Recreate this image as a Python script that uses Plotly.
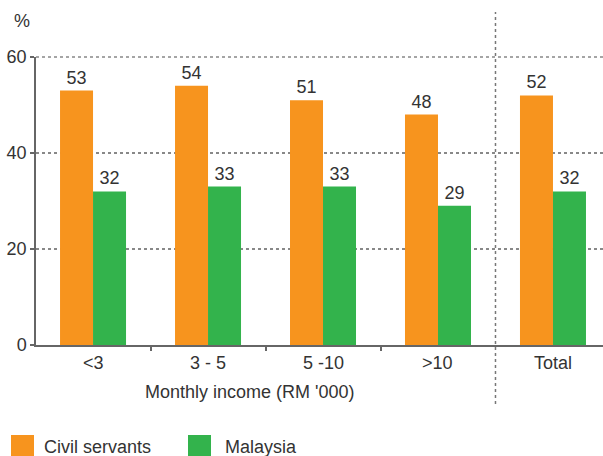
import plotly.graph_objects as go

# Share of households (%) by monthly income group
categories = ["<3", "3 - 5", "5 -10", ">10", "Total"]
civil_servants = [53, 54, 51, 48, 52]
malaysia = [32, 33, 33, 29, 32]
series_names = ["Civil servants", "Malaysia"]
y_ticks = [0, 20, 40, 60]

ORANGE = "#F7941E"
GREEN = "#33B34C"
TEXT = "#333333"
AXIS = "#666666"
GRID = "#888888"
FONT = "Liberation Sans, Arial, sans-serif"
FS = 18

W, H = 603, 456
L, R, T, B = 36, 0, 57, 111
plot_w, plot_h = W - L - R, H - T - B

x_idx = list(range(len(categories)))
x_min, x_max = -0.496, 4.435


def px_x(px):
    return (px - L) / plot_w


def px_y(py):
    return (H - B - py) / plot_h


fig = go.Figure()
for name, vals, col in [(series_names[0], civil_servants, ORANGE),
                        (series_names[1], malaysia, GREEN)]:
    fig.add_trace(go.Bar(
        x=x_idx, y=vals, name=name, marker=dict(color=col, line=dict(width=0)),
        text=vals, texttemplate="%{y}", textposition="outside",
        textfont=dict(family=FONT, size=FS, color=TEXT), cliponaxis=False,
        showlegend=False,
    ))

# Category labels under the axis
annotations = []
for i, c in enumerate(categories):
    annotations.append(dict(x=i, y=px_y(363), xref="x", yref="paper", text=c,
                            showarrow=False, font=dict(family=FONT, size=FS, color=TEXT),
                            xanchor="center", yanchor="middle"))
annotations.append(dict(x=px_x(250), y=px_y(392), xref="paper", yref="paper",
                        text="Monthly income (RM '000)", showarrow=False,
                        font=dict(family=FONT, size=FS, color=TEXT),
                        xanchor="center", yanchor="middle"))
annotations.append(dict(x=px_x(22), y=px_y(21), xref="paper", yref="paper",
                        text="%", showarrow=False,
                        font=dict(family=FONT, size=FS, color=TEXT),
                        xanchor="center", yanchor="middle"))

# Legend drawn as swatches with labels
shapes = []
legend_items = [(series_names[0], ORANGE, 11, 42), (series_names[1], GREEN, 188, 223)]
for name, col, sx, tx in legend_items:
    shapes.append(dict(type="rect", xref="paper", yref="paper",
                       x0=px_x(sx), x1=px_x(sx + 23), y0=px_y(457), y1=px_y(435),
                       fillcolor=col, line=dict(width=0)))
    annotations.append(dict(x=px_x(tx), y=px_y(447), xref="paper", yref="paper",
                            text=name, showarrow=False,
                            font=dict(family=FONT, size=FS, color=TEXT),
                            xanchor="left", yanchor="middle"))

# Top gridline at 60
shapes.append(dict(type="line", xref="paper", yref="paper", x0=0, x1=1, y0=1, y1=1,
                   line=dict(color=GRID, width=1.5, dash="dot"), layer="below"))

# Dotted separator between the income groups and the total
sep = (3.5 - x_min) / (x_max - x_min)
shapes.append(dict(type="line", xref="paper", yref="paper", x0=sep, x1=sep,
                   y0=px_y(404), y1=px_y(12),
                   line=dict(color="#777777", width=1.5, dash="dot")))

fig.update_layout(
    width=W, height=H, margin=dict(l=L, r=R, t=T, b=B),
    paper_bgcolor="white", plot_bgcolor="white",
    barmode="group", bargap=0.426, bargroupgap=0,
    font=dict(family=FONT, size=FS, color=TEXT),
    annotations=annotations, shapes=shapes, showlegend=False,
    xaxis=dict(range=[x_min, x_max], tickvals=[0.5, 1.5, 2.5], ticktext=["", "", ""],
               ticks="outside", ticklen=4, tickcolor=AXIS, tickwidth=1.5,
               showline=True, linecolor=AXIS, linewidth=2, showgrid=False,
               zeroline=False, fixedrange=True),
    yaxis=dict(range=[0, 60], tickvals=y_ticks, ticks="outside", ticklen=4,
               tickcolor=AXIS, tickwidth=1.5, showline=True, linecolor=AXIS,
               linewidth=1.5, showgrid=True, gridcolor=GRID, gridwidth=1.5,
               griddash="dot", zeroline=False, ticklabelstandoff=0,
               tickfont=dict(family=FONT, size=FS, color=TEXT), fixedrange=True),
)

fig.write_html("out.html")
